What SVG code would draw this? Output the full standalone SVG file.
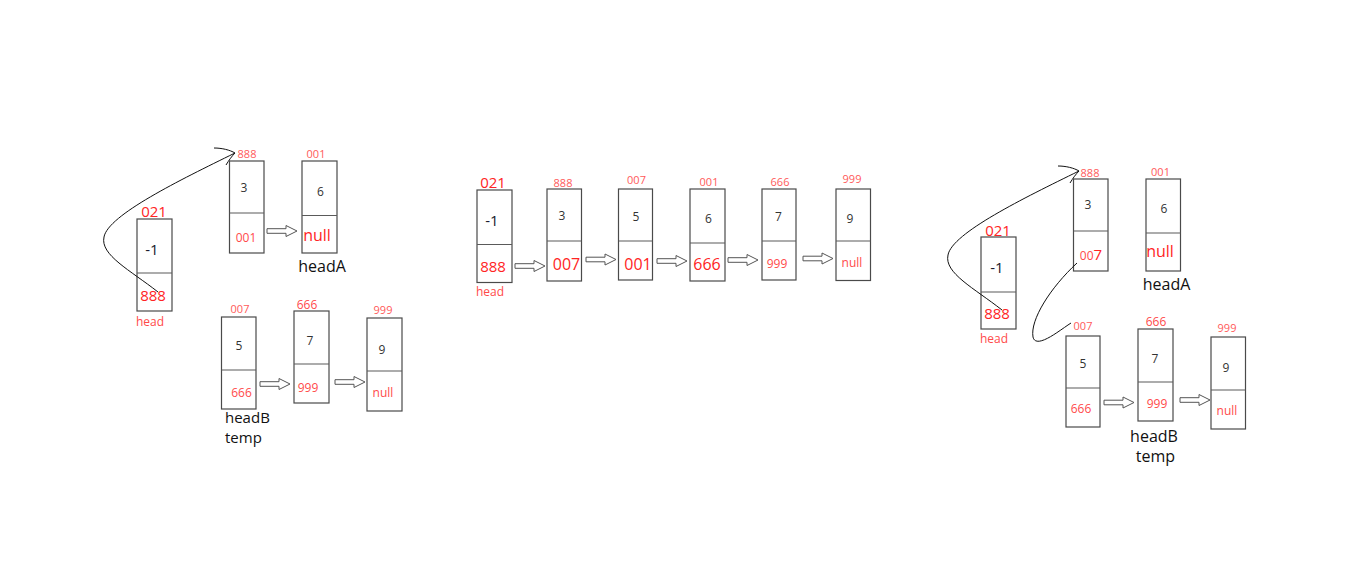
<svg xmlns="http://www.w3.org/2000/svg" width="1360" height="581" viewBox="0 0 1360 581">
<style>
.box{fill:#fff;stroke:#4a4a4a;stroke-width:1.2}
.div{stroke:#5a5a5a;stroke-width:1.1}
.t{font-family:"Segoe UI","Open Sans","Noto Sans",sans-serif;text-anchor:middle}
.lab{fill:#ff5a5a;font-size:11px}
.big{fill:#ff2424;font-size:15px}
.sm{fill:#ff4a4a;font-size:12px}
.val{fill:#333;font-size:12px}
.neg{fill:#1a1a2e;font-size:15px}
.blk{fill:#111;font-size:16px;font-family:"Segoe UI","Open Sans","Noto Sans",sans-serif}
.arr{fill:#fff;stroke:#555;stroke-width:1}
.curve{fill:none;stroke:#111;stroke-width:1}
</style>
<defs>
<path id="ha" d="M0,-2.3 H19 V-5.5 L30,0 L19,5.5 V2.3 H0 Z"/>
</defs>

<!-- LEFT PANEL -->
<g id="L-n021">
<rect class="box" x="137" y="219" width="35" height="92"/>
<line class="div" x1="137" y1="273" x2="172" y2="273"/>
<text class="t big" x="154" y="217">021</text>
<text class="t neg" x="152" y="255">-1</text>
<text class="t big" x="153" y="301">888</text>
<text class="t sm" x="150" y="326">head</text>
</g>
<g id="L-n888">
<rect class="box" x="229.5" y="161" width="34.5" height="92"/>
<line class="div" x1="229.5" y1="213" x2="264" y2="213"/>
<text class="t lab" x="247" y="158">888</text>
<text class="t val" x="244" y="192">3</text>
<text class="t sm" x="246" y="242">001</text>
</g>
<g id="L-n001">
<rect class="box" x="302" y="161" width="35" height="92"/>
<line class="div" x1="302" y1="215.5" x2="337" y2="215.5"/>
<text class="t lab" x="316" y="158">001</text>
<text class="t val" x="320.5" y="196">6</text>
<text class="t big" x="317" y="241" style="font-size:16px">null</text>
<text class="t blk" x="322" y="272" text-anchor="middle">headA</text>
</g>
<g id="L-n007">
<rect class="box" x="221.5" y="317" width="34.5" height="92"/>
<line class="div" x1="221.5" y1="370" x2="256" y2="370"/>
<text class="t lab" x="240" y="313">007</text>
<text class="t val" x="239" y="350">5</text>
<text class="t sm" x="241.5" y="397">666</text>
<text class="blk" x="225" y="423" style="font-size:15px">headB</text>
<text class="blk" x="225" y="443" style="font-size:15px">temp</text>
</g>
<g id="L-n666">
<rect class="box" x="294" y="311" width="35" height="92"/>
<line class="div" x1="294" y1="364" x2="329" y2="364"/>
<text class="t sm" x="307" y="309">666</text>
<text class="t val" x="310" y="345">7</text>
<text class="t sm" x="308" y="392">999</text>
</g>
<g id="L-n999">
<rect class="box" x="367" y="318" width="35" height="93"/>
<line class="div" x1="367" y1="371" x2="402" y2="371"/>
<text class="t lab" x="383" y="314">999</text>
<text class="t val" x="382" y="354">9</text>
<text class="t sm" x="383" y="397">null</text>
</g>

<!-- MIDDLE PANEL -->
<g id="M-n021">
<rect class="box" x="477" y="190" width="35" height="92.5"/>
<line class="div" x1="477" y1="244.5" x2="512" y2="244.5"/>
<text class="t big" x="493" y="188">021</text>
<text class="t neg" x="492" y="226">-1</text>
<text class="t big" x="493" y="272">888</text>
<text class="t sm" x="490" y="296">head</text>
</g>
<g id="M-n888">
<rect class="box" x="547" y="189" width="34.5" height="92"/>
<line class="div" x1="547" y1="241" x2="581.5" y2="241"/>
<text class="t lab" x="563" y="187">888</text>
<text class="t val" x="562" y="220">3</text>
<text class="t big" x="566.5" y="270" style="font-size:16px">007</text>
</g>
<g id="M-n007">
<rect class="box" x="618.5" y="189" width="34" height="91"/>
<line class="div" x1="618.5" y1="241" x2="652.5" y2="241"/>
<text class="t lab" x="636.5" y="184">007</text>
<text class="t val" x="636" y="221">5</text>
<text class="t big" x="638" y="270" style="font-size:16px">001</text>
</g>
<g id="M-n001">
<rect class="box" x="690" y="189" width="35" height="92"/>
<line class="div" x1="690" y1="243" x2="725" y2="243"/>
<text class="t lab" x="709" y="186">001</text>
<text class="t val" x="708.5" y="223">6</text>
<text class="t big" x="707" y="270" style="font-size:16px">666</text>
</g>
<g id="M-n666">
<rect class="box" x="762" y="189" width="34" height="91"/>
<line class="div" x1="762" y1="241" x2="796" y2="241"/>
<text class="t lab" x="780" y="186">666</text>
<text class="t val" x="778.5" y="221">7</text>
<text class="t sm" x="777" y="268">999</text>
</g>
<g id="M-n999">
<rect class="box" x="836" y="189" width="34.5" height="91.5"/>
<line class="div" x1="836" y1="241" x2="870.5" y2="241"/>
<text class="t lab" x="852" y="183">999</text>
<text class="t val" x="850" y="223">9</text>
<text class="t sm" x="852" y="267">null</text>
</g>

<!-- RIGHT PANEL -->
<g id="R-n021">
<rect class="box" x="981" y="237" width="35" height="92"/>
<line class="div" x1="981" y1="292" x2="1016" y2="292"/>
<text class="t big" x="998" y="236">021</text>
<text class="t neg" x="997" y="273">-1</text>
<text class="t big" x="997" y="319">888</text>
<text class="t sm" x="994" y="343">head</text>
</g>
<g id="R-n888">
<rect class="box" x="1073.5" y="179" width="34.5" height="92"/>
<line class="div" x1="1073.5" y1="231" x2="1108" y2="231"/>
<text class="t lab" x="1090" y="177">888</text>
<text class="t val" x="1088" y="209">3</text>
<text class="t sm" x="1091" y="260"><tspan style="font-size:12px">00</tspan><tspan style="font-size:15px;fill:#ff2424">7</tspan></text>
</g>
<g id="R-n001">
<rect class="box" x="1146" y="179" width="34.5" height="92"/>
<line class="div" x1="1146" y1="233" x2="1180.5" y2="233"/>
<text class="t lab" x="1160.5" y="176">001</text>
<text class="t val" x="1164" y="213">6</text>
<text class="t big" x="1160" y="257" style="font-size:16px">null</text>
<text class="t blk" x="1166.5" y="290" text-anchor="middle">headA</text>
</g>
<g id="R-n007">
<rect class="box" x="1066" y="336" width="34" height="91"/>
<line class="div" x1="1066" y1="388" x2="1100" y2="388"/>
<text class="t lab" x="1083" y="330">007</text>
<text class="t val" x="1083" y="368">5</text>
<text class="t sm" x="1081" y="413">666</text>
</g>
<g id="R-n666">
<rect class="box" x="1138" y="329" width="35" height="92"/>
<line class="div" x1="1138" y1="382" x2="1173" y2="382"/>
<text class="t sm" x="1156" y="326">666</text>
<text class="t val" x="1155" y="363">7</text>
<text class="t sm" x="1157" y="408">999</text>
<text class="t blk" x="1154" y="442" text-anchor="middle">headB</text>
<text class="t blk" x="1155.5" y="462" text-anchor="middle">temp</text>
</g>
<g id="R-n999">
<rect class="box" x="1211" y="337" width="34.5" height="92"/>
<line class="div" x1="1211" y1="390" x2="1245.5" y2="390"/>
<text class="t lab" x="1227" y="332">999</text>
<text class="t val" x="1226" y="372">9</text>
<text class="t sm" x="1227" y="415">null</text>
</g>

<!-- CONNECTORS -->
<g id="connectors">
<use href="#ha" class="arr" transform="translate(267,231)"/>
<use href="#ha" class="arr" transform="translate(260,384)"/>
<use href="#ha" class="arr" transform="translate(335,382)"/>
<use href="#ha" class="arr" transform="translate(515,266)"/>
<use href="#ha" class="arr" transform="translate(586,259.5)"/>
<use href="#ha" class="arr" transform="translate(657,261)"/>
<use href="#ha" class="arr" transform="translate(728,260)"/>
<use href="#ha" class="arr" transform="translate(803,258.5)"/>
<use href="#ha" class="arr" transform="translate(1104,402.5)"/>
<use href="#ha" class="arr" transform="translate(1180,400)"/>
<g id="curveL">
<path class="curve" d="M158,292 C130,270 100,255 104,237 C108,215 180,180 235,153"/>
<path class="curve" d="M214,148 C222,148 230,150 235,153 M226,165 C229,160 232,156 235,153"/>
</g>
<g id="curveR" transform="translate(844,18)">
<path class="curve" d="M158,292 C130,270 100,255 104,237 C108,215 180,180 235,153"/>
<path class="curve" d="M214,148 C222,148 230,150 235,153 M226,165 C229,160 232,156 235,153"/>
</g>
<path class="curve" d="M1077,263 C1050,288 1030,320 1033,337 C1036,350 1060,330 1071,323"/>
</g>
</svg>
